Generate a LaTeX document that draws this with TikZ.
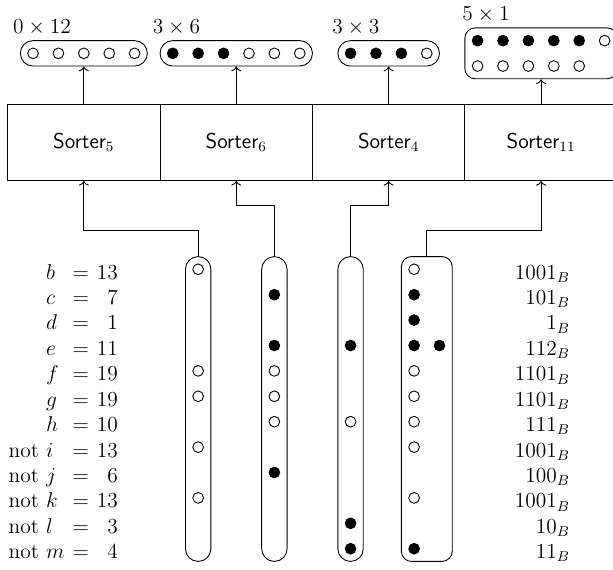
\documentclass[12pt,tikz,border=0pt]{standalone}
\usepackage{amsmath}
\usepackage{tikz}
\usetikzlibrary{arrows.meta}

\begin{document}
\begin{tikzpicture}[x=0.5cm,y=0.5cm,line width=0.5pt,
    sorter/.style={draw,minimum width=3cm,minimum height=1.5cm,font=\sffamily},
    bag/.style={draw,inner sep=0pt,rounded corners=0.25cm},
    wide bag/.style={draw,inner sep=0pt,rounded corners=0.2cm},
    zero/.style={draw,fill=white},
    one/.style={draw,fill=black},
    lbl/.style={inner sep=0pt},
    tag/.style={anchor=base west,inner sep=0pt}]
        \def\dotr{3pt}
        \def\base{0.39}

        \useasboundingbox (-0.3,-0.8) rectangle (23.83,21.6);
        \clip (-0.3,-0.8) rectangle (23.83,21.6);

        %------------------
        % ソーター
        %------------------

        \node[sorter] (sort5)  at (3,16)  {Sorter$_{5}$};
        \node[sorter] (sort6)  at (9,16)  {Sorter$_{6}$};
        \node[sorter] (sort4)  at (15,16) {Sorter$_{4}$};
        \node[sorter] (sort11) at (21,16) {Sorter$_{11}$};

        %------------------
        % 出力（上）
        %------------------

        \node[bag,minimum width=2.5cm,minimum height=0.5cm] (out5) at (3,19.5) {};
        \node[bag,minimum width=3cm,minimum height=0.5cm] (out6) at (9,19.5) {};
        \node[bag,minimum width=2cm,minimum height=0.5cm] (out4) at (15,19.5) {};
        \node[wide bag,minimum width=3cm,minimum height=1cm] (out11) at (21,19.5) {};

        \node[tag] (tag5)  at ([shift={(-0.28,0.26)}]out5.north west)  {$0\times 12$};
        \node[tag] (tag6)  at ([shift={(-0.28,0.26)}]out6.north west)  {$3\times 6$};
        \node[tag] (tag4)  at ([shift={(-0.22,0.26)}]out4.north west)  {$3\times 3$};
        \node[tag] (tag11) at ([shift={(-0.10,0.29)}]out11.north west) {$5\times 1$};

        \foreach \x in {1,...,5} \draw[zero] (\x,19.5) circle[radius=\dotr];
        \foreach \x in {6.5,7.5,8.5} \draw[one] (\x,19.5) circle[radius=\dotr];
        \foreach \x in {9.5,10.5,11.5} \draw[zero] (\x,19.5) circle[radius=\dotr];
        \foreach \x in {13.5,14.5,15.5} \draw[one] (\x,19.5) circle[radius=\dotr];
        \draw[zero] (16.5,19.5) circle[radius=\dotr];
        \foreach \x in {18.5,...,22.5} \draw[one] (\x,20) circle[radius=\dotr];
        \draw[zero] (23.5,20) circle[radius=\dotr];
        \foreach \x in {18.5,...,22.5} \draw[zero] (\x,19) circle[radius=\dotr];

        \draw[->] (sort5.north)  -- (out5.south);
        \draw[->] (sort6.north)  -- (out6.south);
        \draw[->] (sort4.north)  -- (out4.south);
        \draw[->] (sort11.north) -- (out11.south);

        %------------------
        % 入力（下）
        %------------------

        \node[bag,minimum width=0.5cm,minimum height=6cm] (col5) at (7.5,5.5) {};
        \node[bag,minimum width=0.5cm,minimum height=6cm] (col6) at (10.5,5.5) {};
        \node[bag,minimum width=0.5cm,minimum height=6cm] (col4) at (13.5,5.5) {};
        \node[wide bag,minimum width=1cm,minimum height=6cm] (col11) at (16.5,5.5) {};

        % 行: b=11, c=10, ..., m=0
        \foreach \y in {11,7,6,4,2} \draw[zero] (7.5,\y) circle[radius=\dotr];
        \foreach \y in {10,8,3} \draw[one] (10.5,\y) circle[radius=\dotr];
        \foreach \y in {7,6,5} \draw[zero] (10.5,\y) circle[radius=\dotr];
        \foreach \y in {8,1,0} \draw[one] (13.5,\y) circle[radius=\dotr];
        \draw[zero] (13.5,5) circle[radius=\dotr];
        \foreach \y in {11,7,6,5,4,2} \draw[zero] (16,\y) circle[radius=\dotr];
        \foreach \y in {10,9,8,0} \draw[one] (16,\y) circle[radius=\dotr];
        \draw[one] (17,8) circle[radius=\dotr];

        \draw[->] (col5.north)  -- ++(0,1) -| (sort5.south);
        \draw[->] (col6.north)  -- ++(0,2) -| (sort6.south);
        \draw[->] (col4.north)  -- ++(0,2) -| (sort4.south);
        \draw[->] (col11.north) -- ++(0,1) -| (sort11.south);

        %------------------
        % ラベル
        %------------------

        \foreach \v/\n/\w [count=\k from 0] in {b/13/1001,c/7/101,d/1/1,e/11/112,
            f/19/1101,g/19/1101,h/10/111,i/13/1001,j/6/100,k/13/1001,l/3/10,m/4/11}{
          \node[lbl,anchor=base west] (var\k) at (1.5,{11-\k-\base}) {$\v$};
          \node[lbl,anchor=base] (eq\k) at (2.88,{11-\k-\base}) {$=$};
          \node[lbl,anchor=base east] (val\k) at (4.36,{11-\k-\base}) {$\n$};
          \node[lbl,anchor=base east] (bin\k) at (22.15,{11-\k-\base}) {$\w_B$};
        }
        \foreach \k in {7,...,11}
          \node[lbl,anchor=base east] (not\k) at ([xshift=-3.5pt]var\k.base west) {not};
      \end{tikzpicture}
\end{document}
